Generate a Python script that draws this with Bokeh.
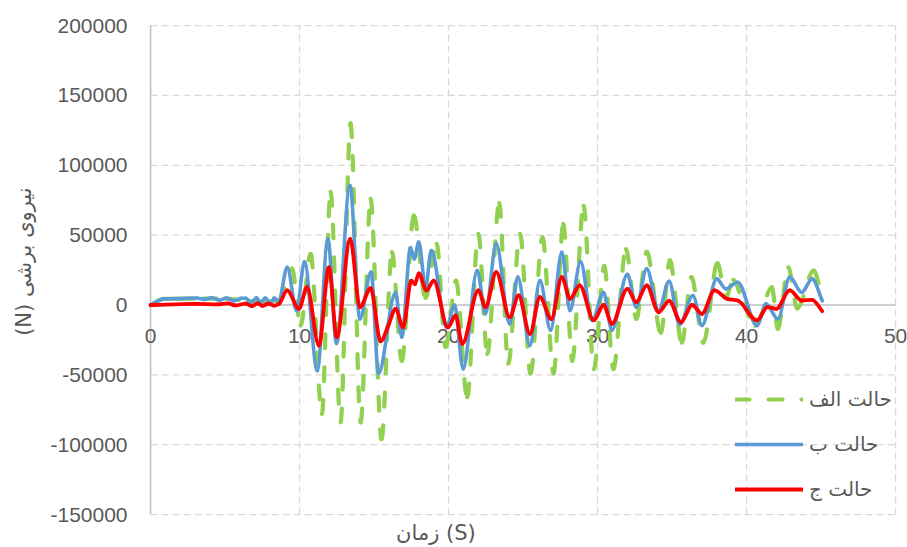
import numpy as np
from bokeh.plotting import figure
from bokeh.models import Range1d, ColumnDataSource, Legend, LegendItem
from bokeh.embed import file_html
from bokeh.resources import INLINE
from bokeh.core.properties import value

# ---------------- data ----------------
x_ticks = [0, 10, 20, 30, 40, 50]
x_tick_labels = ["0", "10", "20", "30", "40", "50"]
y_ticks = [-150000, -100000, -50000, 0, 50000, 100000, 150000, 200000]
y_tick_labels = ["-150000", "-100000", "-50000", "0", "50000", "100000", "150000", "200000"]

series_names = ["حالت الف", "حالت ب", "حالت ج"]
x_title = "زمان (S)"
y_title = "(N) نیروی برشی"

# حالت الف (green, dashed)
t_alef = [0, 0.9, 2.0, 3.5, 5.0, 6.5, 7.5, 8.6, 9.5, 10.07, 10.74, 11.5, 12.08, 12.75,
          13.42, 14.1, 14.77, 15.5, 16.2, 16.86, 17.67, 18.45, 19.2, 19.8, 20.5, 21.25,
          22.0, 22.6, 23.4, 24.0, 24.8, 25.5, 26.3, 27.05, 27.7, 28.3, 29.06, 29.75,
          30.45, 31.06, 31.9, 32.6, 33.3, 34.25, 34.85, 35.65, 36.3, 37.1, 38.05, 38.6,
          39.1, 39.8, 40.6, 41.7, 42.1, 42.8, 43.4, 44.5, 45.08]
v_alef = [0, 4400, 4600, 4500, 4500, 3000, 2500, 3000, 26000, -14700, 36700, -78000, 81000, -84000,
          130000, -84000, 76000, -96000, 37800, -40000, 64000, 5000, 43800, -30000, 17500, -66000,
          51000, -35000, 73000, -42000, 51000, -49000, 48500, -49000, 58000, -40000, 71000, -46000,
          28000, -46000, 40000, -10000, 38000, -20000, 32000, -27000, 20000, -27000, 30000, 5000,
          18000, 1000, -15000, 12700, -17000, 27000, -2500, 24700, 5000]

# حالت ب (blue)
t_be = [0, 0.9, 2.0, 3.1, 3.6, 4.1, 4.6, 5.1, 5.6, 6.1, 6.4, 6.75, 7.1, 7.4, 7.7, 8.05, 8.3, 8.6,
        9.17, 9.8, 10.33, 11.19, 11.9, 12.48, 13.38, 14.05, 14.8, 15.3, 16.44, 16.86, 17.45,
        17.7, 18.0, 18.46, 18.84, 19.87, 20.4, 20.98, 21.92, 22.48, 23.2, 24.1, 24.65, 25.46,
        26.13, 26.85, 27.6, 28.15, 28.86, 29.64, 30.4, 30.96, 32.0, 32.6, 33.3, 34.1, 34.8,
        35.5, 36.4, 37.0, 38.0, 38.6, 39.4, 40.7, 41.3, 42.1, 42.9, 43.7, 44.4, 45.08]
v_be = [0, 4400, 4600, 5000, 4000, 5200, 3500, 5000, 3000, 4800, 4800, 1800, 5100, 1500, 5000, 1500, 5000, 2500,
        27000, -4000, 31000, -47000, 47400, -27600, 85500, -10000, 23500, -49000, 9000, -23000, 41000,
        33000, 45000, 12700, 39000, -16000, 0, -45700, 24700, -6300, 43800, -13500, 20000, -29000,
        17500, -18000, 37800, -4000, 31000, -11000, 9000, -18000, 22000, -1500, 26000, -4000, 17000,
        -14000, 6800, -14700, 18700, 11600, 16300, -14700, 800, -10000, 20000, 9000, 18700, 3000]

# حالت ج (red)
t_jim = [0, 3.0, 4.5, 5.2, 5.7, 6.4, 6.8, 7.2, 7.5, 7.9, 8.3, 8.6, 9.17, 9.96, 10.5, 11.3, 11.97,
         12.5, 13.4, 14.05, 14.77, 15.44, 16.0, 16.44, 16.95, 17.5, 17.75, 18.0, 18.52, 19.0,
         19.95, 20.47, 20.92, 22.0, 22.48, 23.2, 24.1, 24.7, 25.46, 26.13, 26.9, 27.6, 28.15,
         28.8, 29.75, 30.4, 30.96, 32.0, 32.6, 33.3, 34.1, 34.8, 35.6, 36.35, 37.0, 37.85, 38.7,
         39.4, 40.7, 41.4, 42.0, 42.9, 43.7, 44.4, 45.08]
v_jim = [0, 800, 500, 1200, -300, 1000, -800, 1200, -600, 1000, -500, 600, 10400, -2700, 12700, -29000, 27000,
         -23000, 47400, -1500, 12000, -26000, -13500, -2700, -16000, 17500, 15000, 22700, 10400, 17500,
         -16000, -7500, -27800, 10400, -1500, 23500, -8700, 6800, -20600, 5600, -10000, 20000, 4400,
         14000, -11000, 0, -13500, 11600, 2000, 14000, -5200, 3000, -12300, 0, -6300, 10400, 4400,
         3200, -11000, -1500, -2700, 10400, 3200, 3700, -4400]


def smooth_source(t, v):
    """Bezier pieces through the read points (monotone cubic, like a smoothed line)."""
    x = np.asarray(t, float)
    y = np.asarray(v, float)
    h = np.diff(x)
    d = np.diff(y) / h
    n = len(x)
    m = np.zeros(n)
    for k in range(1, n - 1):
        if d[k - 1] * d[k] > 0:
            w1 = 2 * h[k] + h[k - 1]
            w2 = h[k] + 2 * h[k - 1]
            m[k] = (w1 + w2) / (w1 / d[k - 1] + w2 / d[k])
    m[0] = d[0]
    m[-1] = d[-1]
    return ColumnDataSource(dict(
        x0=x[:-1], y0=y[:-1], x1=x[1:], y1=y[1:],
        cx0=x[:-1] + h / 3, cy0=y[:-1] + m[:-1] * h / 3,
        cx1=x[1:] - h / 3, cy1=y[1:] - m[1:] * h / 3,
    ))


TICK_FONT = "Liberation Sans"
FA_FONT = "DejaVu Sans"
TEXT_COLOR = "#595959"
GRID_COLOR = "#d9d9d9"
AXIS_COLOR = "#bfbfbf"

# the frame covers the whole canvas; axes, grid and labels are drawn from the tick lists
p = figure(width=907, height=547,
           x_range=Range1d(-10.07, 50.80), y_range=Range1d(-173560, 217940),
           output_backend="svg", toolbar_location=None,
           x_axis_location=None, y_axis_location=None, min_border=0)
p.outline_line_color = None
p.grid.visible = False
p.background_fill_color = "white"

# gridlines (dashed)
gx = [t for t in x_ticks if t != x_ticks[0]]
p.segment(x0=gx, y0=[y_ticks[0]] * len(gx), x1=gx, y1=[y_ticks[-1]] * len(gx),
          line_color=GRID_COLOR, line_width=1.3, line_dash="7 4")
gy = [t for t in y_ticks if t != 0]
p.segment(x0=[x_ticks[0]] * len(gy), y0=gy, x1=[x_ticks[-1]] * len(gy), y1=gy,
          line_color=GRID_COLOR, line_width=1.3, line_dash="7 4")
# axis lines
p.segment(x0=[x_ticks[0]], y0=[y_ticks[0]], x1=[x_ticks[0]], y1=[y_ticks[-1]],
          line_color=AXIS_COLOR, line_width=1.6)
p.segment(x0=[x_ticks[0]], y0=[0], x1=[x_ticks[-1]], y1=[0],
          line_color=AXIS_COLOR, line_width=1.6)

# tick labels
p.text(x=x_ticks, y=[0] * len(x_ticks), text=x_tick_labels, text_align="center",
       text_baseline="middle", y_offset=31, text_font=value(TICK_FONT),
       text_font_size=value("21px"), text_color=TEXT_COLOR)
p.text(x=[x_ticks[0]] * len(y_ticks), y=y_ticks, text=y_tick_labels, text_align="right",
       text_baseline="middle", x_offset=-23, text_font=value(TICK_FONT),
       text_font_size=value("21px"), text_color=TEXT_COLOR)

src_a = smooth_source(t_alef, v_alef)
src_b = smooth_source(t_be, v_be)
src_c = smooth_source(t_jim, v_jim)

r_a = p.bezier(x0="x0", y0="y0", x1="x1", y1="y1", cx0="cx0", cy0="cy0", cx1="cx1", cy1="cy1",
               source=src_a, line_color="#92d050", line_width=4.2, line_dash="14 19", line_cap="round")
r_b = p.bezier(x0="x0", y0="y0", x1="x1", y1="y1", cx0="cx0", cy0="cy0", cx1="cx1", cy1="cy1",
               source=src_b, line_color="#5b9bd5", line_width=3.6, line_cap="round")
r_c = p.bezier(x0="x0", y0="y0", x1="x1", y1="y1", cx0="cx0", cy0="cy0", cx1="cx1", cy1="cy1",
               source=src_c, line_color="#ff0000", line_width=3.8, line_cap="round")

legend = Legend(items=[LegendItem(label=series_names[0], renderers=[r_a]),
                       LegendItem(label=series_names[1], renderers=[r_b]),
                       LegendItem(label=series_names[2], renderers=[r_c])],
                location=(735, 46), glyph_width=68, glyph_height=20, label_height=20,
                spacing=21, padding=0, margin=0, label_standoff=6,
                background_fill_alpha=0, border_line_alpha=0,
                label_text_font=FA_FONT, label_text_font_size="20px", label_text_color=TEXT_COLOR)
p.add_layout(legend)

# axis titles
p.text(x=[-8.46], y=[31000], text=[y_title], angle=np.pi / 2, text_align="center",
       text_baseline="middle", text_font=value(FA_FONT), text_font_size=value("21px"),
       text_color=TEXT_COLOR)
p.text(x=[19.15], y=[-163000], text=[x_title], text_align="center",
       text_baseline="middle", text_font=value(FA_FONT), text_font_size=value("21px"),
       text_color=TEXT_COLOR)

open("out.html", "w").write(file_html(p, INLINE))
